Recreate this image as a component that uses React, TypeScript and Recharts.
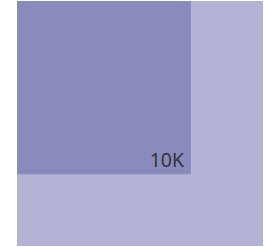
import { ComposedChart, XAxis, YAxis, ReferenceArea, Scatter } from 'recharts';

// nested squares, area proportional to value
const categories = ['Total', 'Part'];
const values = [20000, 10000];
const labels = ['', '10K'];
const colors = ['#b3b3d5', '#8a8abc'];

const sides = values.map((v) => Math.sqrt(v));
const maxSide = Math.max(...sides);
const points = sides.map((s, i) => ({ name: categories[i], x: s, y: s }));

export default function App() {
    return (
        <div style={{ position: 'absolute', left: 0, top: 0 }}>
            <ComposedChart
                width={266}
                height={247}
                data={points}
                margin={{ top: 1, right: 3, bottom: 1, left: 17 }}
            >
                <XAxis type="number" dataKey="x" domain={[0, maxSide]} hide />
                <YAxis type="number" dataKey="y" domain={[0, maxSide]} reversed hide />
                {sides.map((s, i) => (
                    <ReferenceArea
                        key={categories[i]}
                        x1={0}
                        x2={s}
                        y1={0}
                        y2={s}
                        fill={colors[i]}
                        fillOpacity={1}
                        stroke="none"
                        label={
                            labels[i]
                                ? {
                                      value: labels[i],
                                      position: 'insideBottomRight',
                                      offset: 7,
                                      fill: '#2e2e2e',
                                      fontSize: 19.5,
                                      fontFamily: 'Open Sans',
                                  }
                                : undefined
                        }
                    />
                ))}
                <Scatter dataKey="y" isAnimationActive={false} shape={() => <g />} />
            </ComposedChart>
        </div>
    );
}
